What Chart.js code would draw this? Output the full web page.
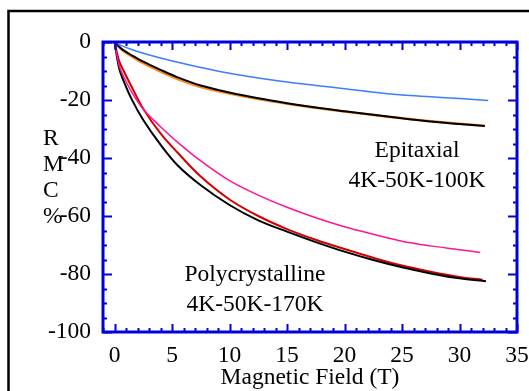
<!DOCTYPE html>
<html>
<head>
<meta charset="utf-8">
<script src="https://cdn.jsdelivr.net/npm/chart.js@4"></script>
<style>
  body { margin: 0; background: #fff; }
  canvas { display: block; }
</style>
</head>
<body>
<canvas id="mr-chart" width="529" height="391"></canvas>
<script>

// magnetic field grid (T) shared by all curves, the last point of each curve is separate
const field = [0, 0.4, 0.8, 1.5, 2.5, 4, 5.5, 7.5, 10, 12.5, 15, 17.5, 20, 22.5, 25, 27.5, 30];

// epitaxial films
const epi100K = [0, -0.9, -1.6, -2.6, -3.9, -5.5, -7, -8.8, -10.8, -12.4, -13.8, -15, -16.1, -17.3, -18.3, -18.9, -19.5];
const epi50K  = [0, -1.8, -3.2, -5, -7.3, -10.2, -12.8, -15.5, -17.8, -19.7, -21.3, -22.7, -24, -25.2, -26.3, -27.3, -28.2];
const epi4K   = [0, -1.6, -2.9, -4.6, -6.8, -9.6, -12.2, -15, -17.4, -19.4, -21.1, -22.6, -23.9, -25.1, -26.3, -27.4, -28.3];

// polycrystalline samples
const poly4K   = [0, -9, -13.5, -19.8, -26.9, -35.4, -42.6, -49.4, -56.2, -61.5, -65.4, -69, -72.3, -75.2, -77.7, -79.8, -81.5];
const poly50K  = [0, -6.5, -10, -15.5, -23, -31.5, -38.2, -46.4, -54.3, -60, -64.5, -68.2, -71.4, -74.4, -77.1, -79.2, -81];
const poly170K = [0, -8, -12, -17.3, -23.2, -29.2, -34.6, -41, -47.8, -52.8, -57, -60.6, -63.7, -66.3, -68.7, -70.3, -71.6];

// where each curve stops: [field, value]
const endEpi100K = [32.5, -20.2];
const endEpi50K = [32.2, -28.9];
const endEpi4K = [32.2, -29.0];
const endPoly4K = [32.3, -82.5];
const endPoly50K = [32.0, -82.0];
const endPoly170K = [31.8, -72.6];

const xTicks = [0, 5, 10, 15, 20, 25, 30, 35];
const yTicks = [-100, -80, -60, -40, -20, 0];

const serif = '"Liberation Serif", "Times New Roman", serif';
const axisBlue = '#0000dd';

function curve(values, end) {
    let pts = field.map((f, i) => ({x: f, y: values[i]}));
    pts.push({x: end[0], y: end[1]});
    return pts;
}

function line(values, end, color, width) {
    return {
        data: curve(values, end),
        borderColor: color,
        borderWidth: width,
        pointRadius: 0,
        tension: 0.35,
        fill: false
    };
}

// axis box, inward ticks and the text labels
const decorations = {
    id: 'decorations',
    afterDatasetsDraw(chart) {
        const ctx = chart.ctx;
        const a = chart.chartArea;
        const xs = chart.scales.x;
        const ys = chart.scales.y;

        ctx.save();

        // outer frame of the figure
        ctx.strokeStyle = '#000';
        ctx.lineWidth = 2.5;
        ctx.beginPath();
        ctx.moveTo(8.5, 400);
        ctx.lineTo(8.5, 11);
        ctx.lineTo(540, 11);
        ctx.stroke();

        // ticks
        ctx.strokeStyle = axisBlue;
        ctx.lineWidth = 2;
        ctx.beginPath();
        for (let v = -1; v <= 35; v++) {
            const px = Math.round(xs.getPixelForValue(v)) + 0.5;
            const len = (v % 5 === 0) ? 8 : 4;
            ctx.moveTo(px, a.bottom); ctx.lineTo(px, a.bottom - len);
            ctx.moveTo(px, a.top); ctx.lineTo(px, a.top + len);
        }
        for (let v = -100; v <= 0; v += 5) {
            const py = Math.round(ys.getPixelForValue(v)) + 0.5;
            const len = (v % 20 === 0) ? 9 : 4;
            ctx.moveTo(a.left, py); ctx.lineTo(a.left + len, py);
            ctx.moveTo(a.right, py); ctx.lineTo(a.right - len, py);
        }
        ctx.stroke();

        // axis box
        ctx.lineWidth = 3;
        ctx.strokeRect(a.left, a.top, a.right - a.left, a.bottom - a.top);

        // y title, one letter under the other
        ctx.fillStyle = '#000';
        ctx.font = '23.5px ' + serif;
        ctx.textAlign = 'left';
        ctx.textBaseline = 'alphabetic';
        ['R', 'M', 'C', '%'].forEach((ch, i) => ctx.fillText(ch, 43, 145 + i * 26));

        // sample labels
        ctx.textAlign = 'center';
        ctx.fillText('Epitaxial', 417, 157);
        ctx.fillText('4K-50K-100K', 417, 187);
        ctx.fillText('Polycrystalline', 255, 281);
        ctx.fillText('4K-50K-170K', 255, 311);

        ctx.restore();
    }
};

const chart_data = {
    datasets: [
        line(epi100K, endEpi100K, '#3a7dff', 1.5),
        line(epi4K, endEpi4K, '#000000', 2),
        line(epi50K, endEpi50K, '#ff8c1a', 2.5),
        line(poly170K, endPoly170K, '#ff1493', 1.5),
        line(poly4K, endPoly4K, '#000000', 2),
        line(poly50K, endPoly50K, '#d40000', 2)
    ]
};

const options = {
    responsive: false,
    animation: false,
    devicePixelRatio: 1,
    layout: { padding: { left: 0, top: 42, right: 0, bottom: 0 } },
    plugins: {
        legend: { display: false },
        tooltip: { enabled: false }
    },
    scales: {
        x: {
            type: 'linear',
            min: -1,
            max: 35,
            afterFit: s => { s.height = 59; s.paddingLeft = 0; s.paddingRight = 12; },
            afterBuildTicks: s => { s.ticks = xTicks.map(v => ({value: v})); },
            grid: { display: false, drawTicks: false },
            border: { display: false },
            ticks: { color: '#000', font: { family: serif, size: 23.5 }, padding: 10, maxRotation: 0, autoSkip: false },
            title: { display: true, text: 'Magnetic Field (T)', color: '#000', font: { family: serif, size: 23.5, lineHeight: 1.1 }, padding: { top: 0, bottom: 0 } }
        },
        y: {
            min: -100,
            max: 0,
            afterFit: s => { s.width = 103; s.paddingTop = 0; s.paddingBottom = 0; },
            afterBuildTicks: s => { s.ticks = yTicks.map(v => ({value: v})); },
            grid: { display: false, drawTicks: false },
            border: { display: false },
            ticks: { color: '#000', font: { family: serif, size: 23.5 }, padding: 12 }
        }
    }
};

const ctx = document.getElementById('mr-chart').getContext('2d');
const graph = new Chart(ctx, {
    type: 'line',
    data: chart_data,
    options: options,
    plugins: [decorations]
});
</script>
</body>
</html>
